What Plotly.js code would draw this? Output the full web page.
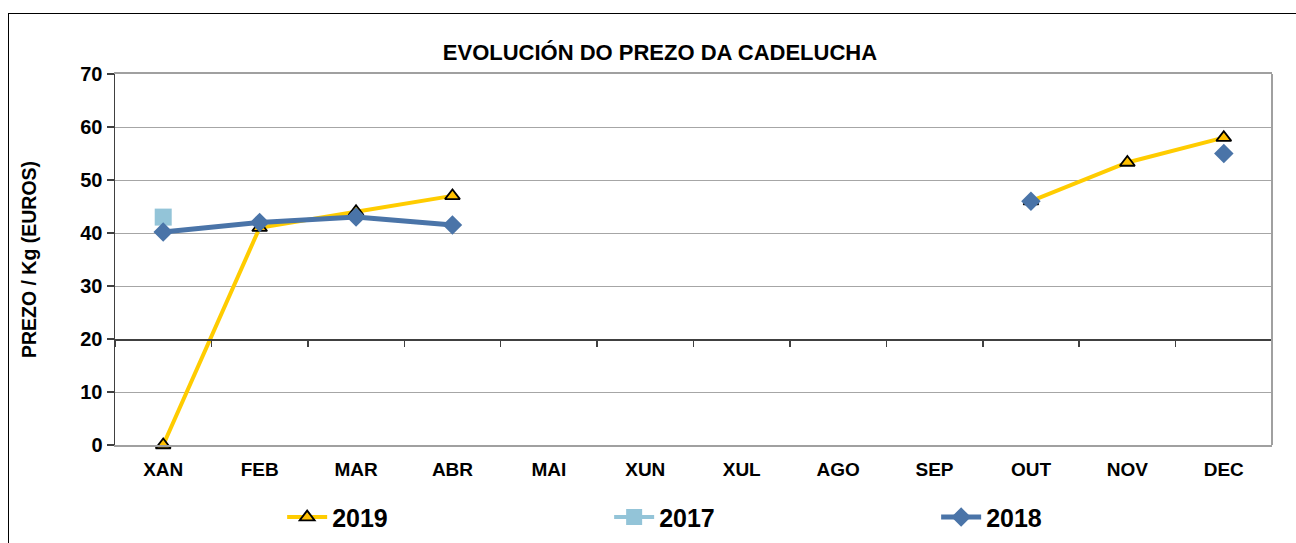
<!DOCTYPE html>
<html>
<head>
<meta charset="utf-8">
<script src="https://cdn.plot.ly/plotly-3.0.1.min.js"></script>
<style>
  html, body { margin: 0; padding: 0; background: #fff; width: 1296px; height: 543px; overflow: hidden; }
  #frame { position: absolute; left: 8px; top: 13px; width: 1288px; height: 530px;
           border-top: 1px solid #000; border-left: 1px solid #000; }
  #chart { width: 1288px; height: 530px; }
</style>
</head>
<body>
<div id="frame"><div id="chart"></div></div>
<script>
const months = ["XAN","FEB","MAR","ABR","MAI","XUN","XUL","AGO","SEP","OUT","NOV","DEC"];
const y2019 = [0, 41, 44, 47, null, null, null, null, null, 46, 53.3, 58];
const y2017 = [43, null, null, null, null, null, null, null, null, null, null, null];
const y2018 = [40.2, 42, 43, 41.5, null, null, null, null, null, 46, null, 55];
const yTicks = [0, 10, 20, 30, 40, 50, 60, 70];

const FONT = "Liberation Sans, Arial, sans-serif";

const traces = [
  {
    name: "<b>2019</b>", x: months, y: y2019, type: "scatter", mode: "lines+markers",
    line: {color: "#FFCC00", width: 4}, connectgaps: false, cliponaxis: false,
    marker: {symbol: "triangle-up", size: 13, color: "#FFC000", line: {color: "#000", width: 1.8}}
  },
  {
    name: "<b>2017</b>", x: months, y: y2017, type: "scatter", mode: "lines+markers",
    line: {color: "#93C4D8", width: 4}, cliponaxis: false,
    marker: {symbol: "square", size: 17, color: "#93C4D8"}
  },
  {
    name: "<b>2018</b>", x: months, y: y2018, type: "scatter", mode: "lines+markers",
    line: {color: "#4A74A8", width: 5}, connectgaps: false, cliponaxis: false,
    marker: {symbol: "diamond", size: 15, color: "#4A74A8"}
  },
  {
    x: months, y: months.map(() => null), xaxis: "x2", type: "scatter", mode: "lines",
    showlegend: false, hoverinfo: "skip"
  }
];

const layout = {
  width: 1288, height: 530,
  margin: {l: 106, r: 25, t: 60, b: 99, autoexpand: false},
  paper_bgcolor: "#fff", plot_bgcolor: "#fff",
  font: {family: FONT, color: "#000"},
  title: {
    text: "<b>EVOLUCIÓN DO PREZO DA CADELUCHA</b>",
    font: {family: FONT, size: 22, color: "#000"},
    xref: "paper", x: 0.471, xanchor: "center",
    yref: "container", y: 0.928, yanchor: "middle"
  },
  xaxis: {
    type: "category", categoryorder: "array", categoryarray: months,
    range: [-0.5, 11.5], showgrid: false, zeroline: false,
    showline: true, linecolor: "#A0A0A0", linewidth: 2, mirror: true,
    ticks: "", tickfont: {family: FONT, size: 19, color: "#000"},
    tickprefix: "<b>", ticksuffix: "</b>", ticklabelstandoff: 6
  },
  xaxis2: {
    type: "category", categoryorder: "array", categoryarray: months,
    range: [-0.5, 11.5], overlaying: "x", anchor: "free", position: 20 / 70,
    showgrid: false, zeroline: false, showline: true, linecolor: "#404040", linewidth: 1.5,
    ticks: "outside", tickson: "boundaries", ticklen: 6, tickcolor: "#404040", tickwidth: 1.5,
    showticklabels: false
  },
  yaxis: {
    range: [0, 70], tickvals: yTicks, ticktext: yTicks.map(v => "<b>" + v + "</b>"),
    showgrid: true, gridcolor: "#A6A6A6", gridwidth: 1, zeroline: false,
    showline: true, linecolor: "#404040", linewidth: 1.5,
    ticks: "outside", ticklen: 7, tickcolor: "#404040", tickwidth: 1.5,
    tickfont: {family: FONT, size: 20, color: "#000"},
    title: {text: "<b>PREZO / Kg (EUROS)</b>", font: {family: FONT, size: 19.5, color: "#000"}, standoff: 38}
  },
  shapes: [
    {type: "line", xref: "paper", yref: "paper", x0: 1, x1: 1, y0: 0, y1: 1,
     line: {color: "#A0A0A0", width: 2}}
  ],
  legend: {
    orientation: "h", x: (282 - 115) / 1156, xanchor: "left", y: -0.195, yanchor: "middle",
    font: {family: FONT, size: 25, color: "#000"},
    entrywidth: 272, entrywidthmode: "pixels", itemwidth: 40,
    bgcolor: "rgba(0,0,0,0)"
  },
  showlegend: true,
  hovermode: false
};

Plotly.newPlot("chart", traces, layout, {displayModeBar: false, staticPlot: true});
</script>
</body>
</html>
